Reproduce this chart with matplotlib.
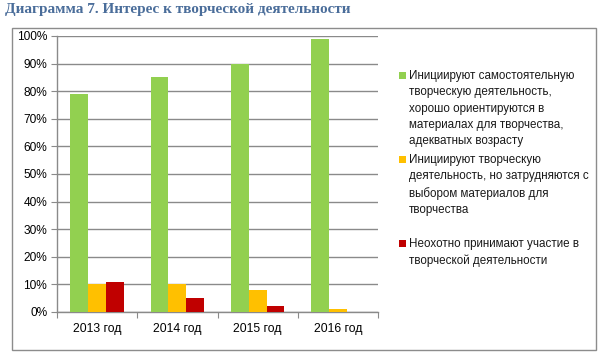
import matplotlib
matplotlib.use("Agg")
import matplotlib.pyplot as plt
from matplotlib.patches import Rectangle
import numpy as np

categories = ["2013 год", "2014 год", "2015 год", "2016 год"]
series_names = [
    "Инициируют самостоятельную\nтворческую деятельность,\nхорошо ориентируются в\nматериалах для творчества,\nадекватных возрасту",
    "Инициируют творческую\nдеятельность, но затрудняются с\nвыбором материалов для\nтворчества",
    "Неохотно принимают участие в\nтворческой деятельности",
]
green_vals = [79, 85, 90, 99]
yellow_vals = [10, 10, 8, 1]
red_vals = [11, 5, 2, 0]
series_values = [green_vals, yellow_vals, red_vals]
colors = ["#92D050", "#FFC000", "#C00000"]
yticks = [0, 10, 20, 30, 40, 50, 60, 70, 80, 90, 100]
title = "Диаграмма 7. Интерес к творческой деятельности"

plt.rcParams['font.family'] = ['Liberation Sans', 'DejaVu Sans']

W, H = 610, 360
fig = plt.figure(figsize=(W / 100, H / 100), dpi=100)

# outer chart border
fig.patches.append(Rectangle((12 / W, 1 - 350 / H), (596 - 12) / W, (350 - 28) / H,
                             transform=fig.transFigure, fill=False,
                             edgecolor="#8C8C8C", linewidth=1.0))

ax = fig.add_axes([57 / W, 1 - 312 / H, (378 - 57) / W, (312 - 36) / H])

n = len(categories)
x = np.arange(n)
bw = 1 / 4.5
offsets = [-bw, 0, bw]
for vals, c, off, name in zip(series_values, colors, offsets, series_names):
    ax.bar(x + off, vals, width=bw, color=c, edgecolor="none", zorder=3, label=name)

ax.set_xlim(-0.5, n - 0.5)
ax.set_ylim(0, 100)
ax.set_yticks(yticks)
ax.set_yticklabels([f"{v}%" for v in yticks], fontsize=8.6)
ax.yaxis.grid(True, color="#8A8A8A", linewidth=1.0, zorder=0)
ax.tick_params(axis="y", length=4, color="#8A8A8A", pad=3)

ax.set_xticks(np.arange(-0.5, n, 1.0))
ax.set_xticklabels([""] * (n + 1))
ax.set_xticks(x, minor=True)
ax.set_xticklabels(categories, minor=True, fontsize=8.8)
ax.tick_params(axis="x", which="major", length=4, color="#8A8A8A")
ax.tick_params(axis="x", which="minor", length=0, pad=8)

for s in ["top", "right"]:
    ax.spines[s].set_visible(False)
for s in ["left", "bottom"]:
    ax.spines[s].set_color("#8A8A8A")
    ax.spines[s].set_linewidth(1.0)

# title
fig.text(5 / W, 1 - 9 / H, title, fontsize=11, fontweight="bold",
         family=["Liberation Serif", "DejaVu Serif"], color="#4A6D9A",
         va="center", ha="left")

# legend (manual)
leg_tops = [75, 159, 243]
for name, c, ty in zip(series_names, colors, leg_tops):
    fig.patches.append(Rectangle((399 / W, 1 - (ty + 4) / H), 7 / W, 7 / H,
                                 transform=fig.transFigure, facecolor=c,
                                 edgecolor="none"))
    fig.text(409 / W, 1 - (ty - 5) / H, name, fontsize=8.4, va="top", ha="left",
             linespacing=1.48, color="#1A1A1A")

fig.savefig("out.png", dpi=100)
